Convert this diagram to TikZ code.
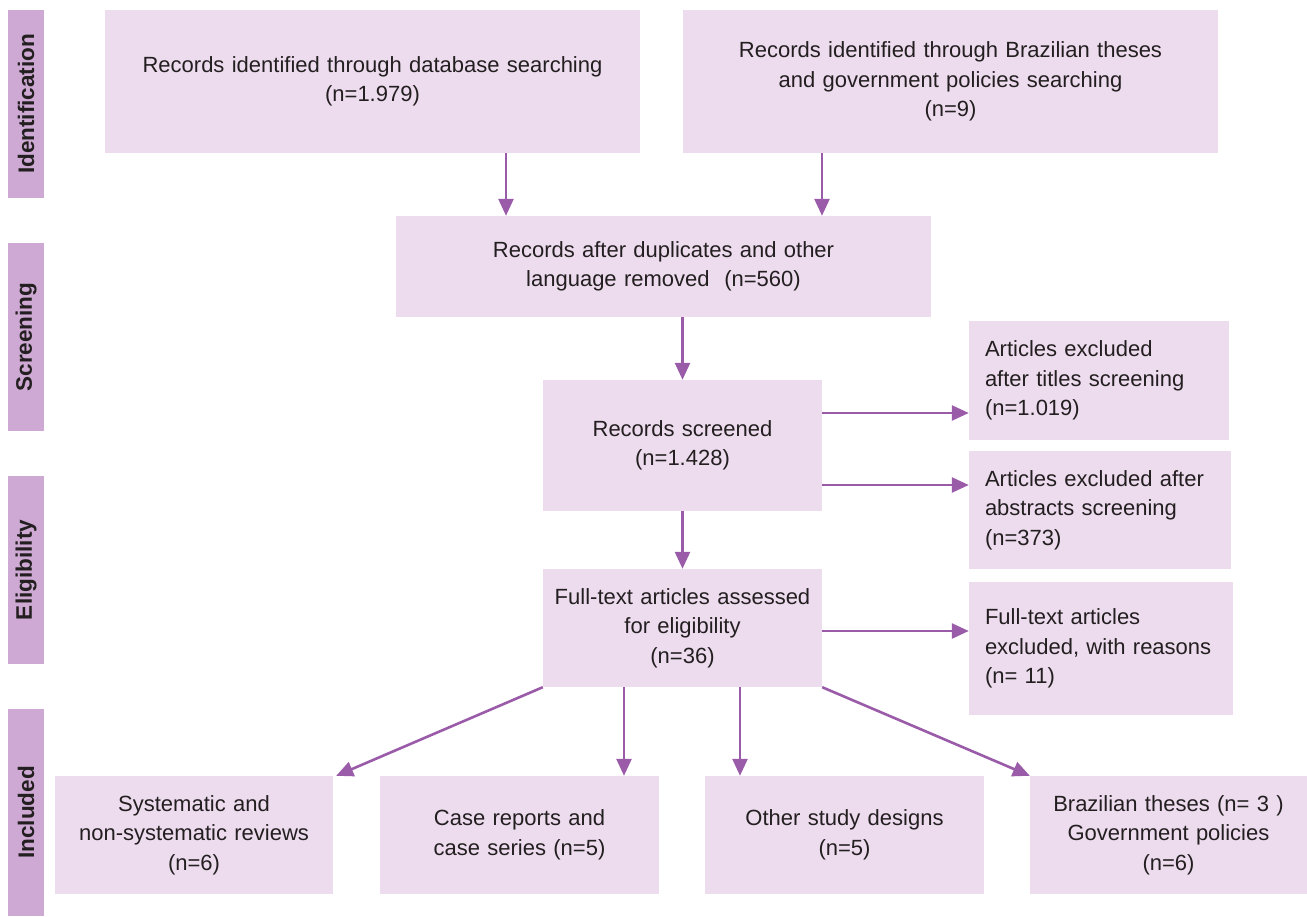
\documentclass[tikz,border=0pt]{standalone}
\usepackage{fontspec}
\setmainfont{Liberation Sans}
\usetikzlibrary{arrows.meta}
\definecolor{sidecol}{HTML}{CDA9D3}
\definecolor{boxcol}{HTML}{EDDCEE}
\definecolor{arrcol}{HTML}{9A5BA8}
\definecolor{txtcol}{HTML}{231F20}
\begin{document}
\begin{tikzpicture}[x=1pt,y=-1pt,
  every node/.style={font=\fontsize{22}{29.5}\selectfont, text=txtcol},
  box/.style={fill=boxcol, draw=none, inner sep=0pt, align=center},
  leftbox/.style={fill=boxcol, draw=none, inner sep=0pt, align=left},
  sidebar/.style={fill=sidecol, draw=none, inner sep=0pt, rotate=90, minimum height=36pt, font=\fontsize{22.5}{26}\selectfont\bfseries},
  arr/.style={draw=arrcol, line width=2.6pt, -{Triangle[length=17pt,width=15pt]}}]
\useasboundingbox (0,0) rectangle (1307,917);
% side bars
\node[sidebar, minimum width=188pt] (s1) at (26,104) {Identification};
\node[sidebar, minimum width=188pt] (s2) at (26,337) {Screening};
\node[sidebar, minimum width=188pt] (s3) at (26,570) {Eligibility};
\node[sidebar, minimum width=207pt] (s4) at (26,812.5) {Included};
% boxes
\node[box, minimum width=535pt, minimum height=143pt, text width=515pt] (A) at (372.5,81.5) {Records identified through database searching\\(n=1.979)};
\node[box, minimum width=535pt, minimum height=143pt, text width=515pt] (B) at (950.5,81.5) {Records identified through Brazilian theses\\and government policies searching\\(n=9)};
\node[box, minimum width=535pt, minimum height=101pt, text width=515pt] (C) at (663.5,266.5) {Records after duplicates and other\\language removed\ \ (n=560)};
\node[box, minimum width=279pt, minimum height=131pt, text width=265pt] (D) at (682.5,445.5) {Records screened\\(n=1.428)};
\node[box, minimum width=279pt, minimum height=118pt, text width=265pt] (E) at (682.5,628) {Full-text articles assessed\\for eligibility\\(n=36)};
\node[leftbox, minimum width=260pt, minimum height=119pt, text width=228pt] (F) at (1099,380.5) {Articles excluded\\after titles screening\\(n=1.019)};
\node[leftbox, minimum width=262pt, minimum height=118pt, text width=230pt] (G) at (1100,510) {Articles excluded after\\abstracts screening\\(n=373)};
\node[leftbox, minimum width=264pt, minimum height=133pt, text width=232pt] (H) at (1101,648.5) {Full-text articles\\excluded, with reasons\\(n= 11)};
\node[box, minimum width=278pt, minimum height=118pt, text width=264pt] (I) at (194,835) {Systematic and\\non-systematic reviews\\(n=6)};
\node[box, minimum width=279pt, minimum height=118pt, text width=265pt] (J) at (519.5,835) {Case reports and\\case series (n=5)};
\node[box, minimum width=279pt, minimum height=118pt, text width=265pt] (K) at (844.5,835) {Other study designs\\(n=5)};
\node[box, minimum width=277pt, minimum height=118pt, text width=263pt] (L) at (1168.5,835) {Brazilian theses (n= 3 )\\Government policies\\(n=6)};
% connectors
\draw[arr] ([xshift=133.5pt]A.south) -- ([xshift=133.5pt]A.south |- C.north);
\draw[arr] ([xshift=-128.5pt]B.south) -- ([xshift=-128.5pt]B.south |- C.north);
\draw[arr] (C.south -| D.north) -- (D.north);
\draw[arr] (D.south) -- (E.north);
\draw[arr] ([yshift=32.5pt]D.east) -- ([yshift=32.5pt]D.east -| F.west);
\draw[arr] ([yshift=-39.5pt]D.east) -- ([yshift=-39.5pt]D.east -| G.west);
\draw[arr] ([yshift=-3pt]E.east) -- ([yshift=-3pt]E.east -| H.west);
\draw[arr] (E.south west) -- ([xshift=3pt]I.north east);
\draw[arr] ([xshift=-58.5pt]E.south) -- ([xshift=-58.5pt]E.south |- J.north);
\draw[arr] ([xshift=57.5pt]E.south) -- ([xshift=57.5pt]E.south |- K.north);
\draw[arr] (E.south east) -- (L.north west);
\end{tikzpicture}
\end{document}
